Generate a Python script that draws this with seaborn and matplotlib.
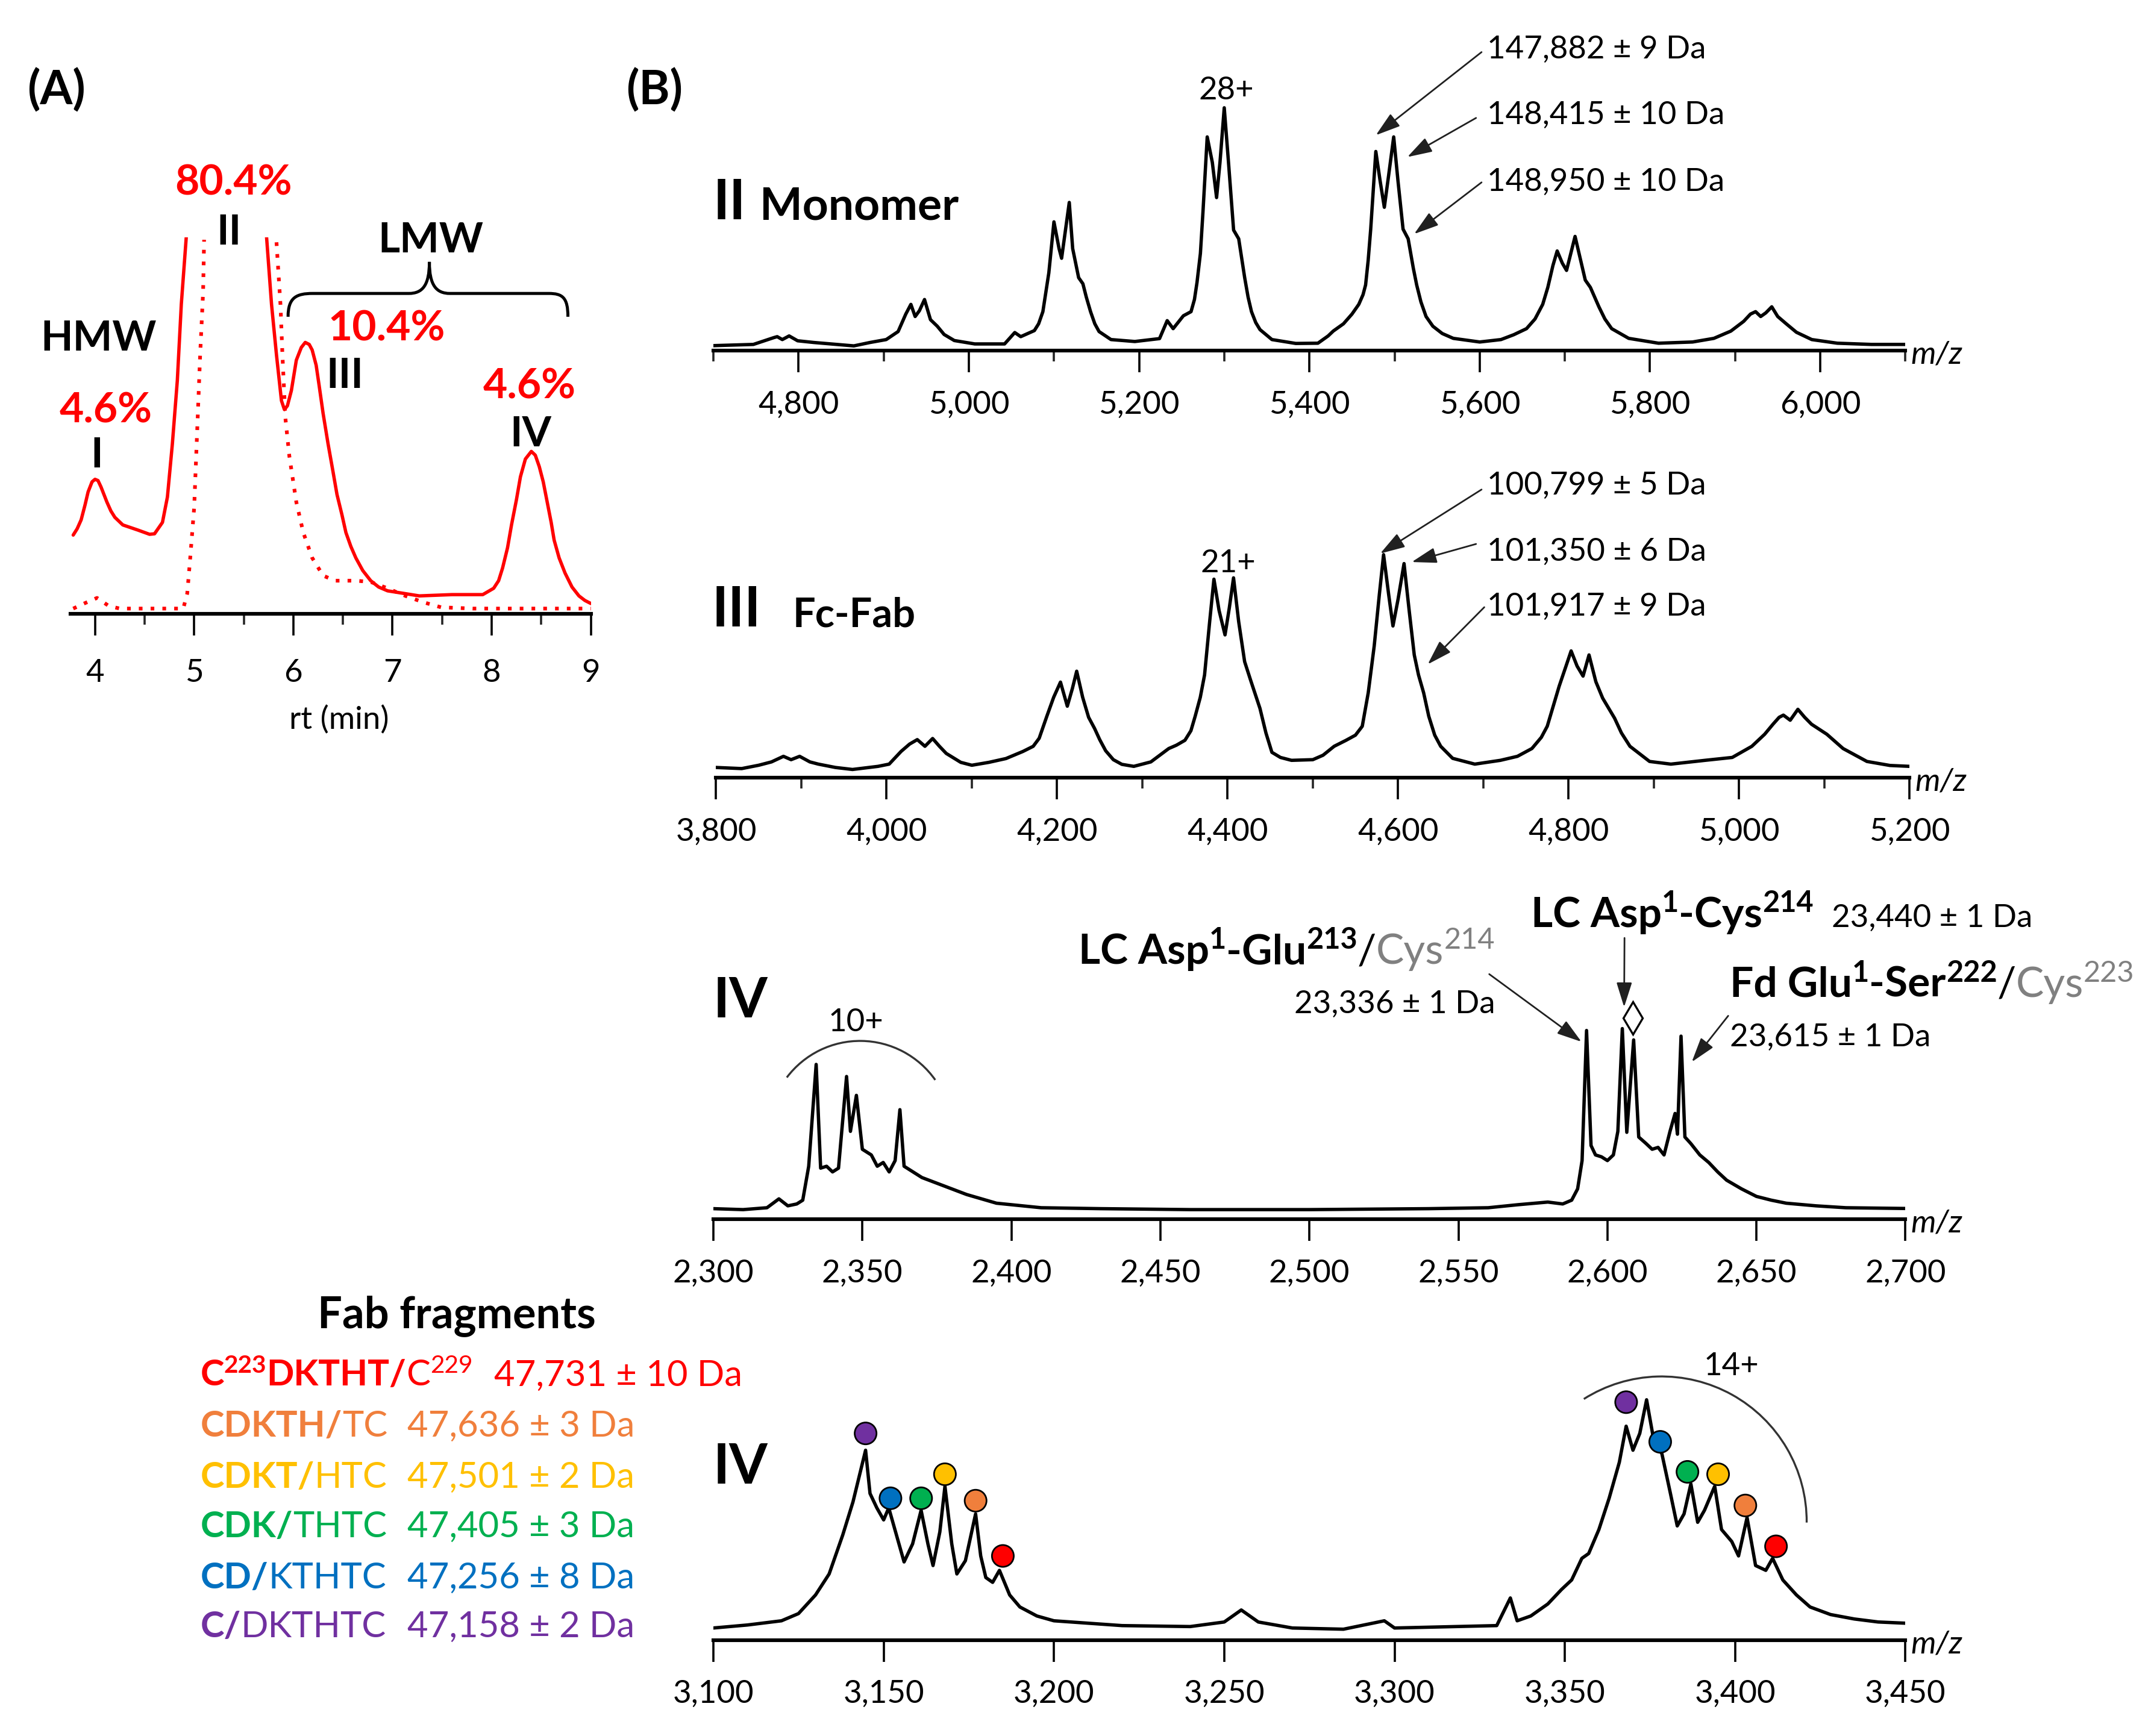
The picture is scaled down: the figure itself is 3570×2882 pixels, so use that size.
import numpy as np
import pandas as pd
import matplotlib
matplotlib.use("Agg")
import matplotlib.pyplot as plt
import seaborn as sns
from matplotlib.transforms import Affine2D, IdentityTransform
from matplotlib.path import Path
from matplotlib.patches import PathPatch, Arc
from matplotlib.ticker import MultipleLocator, FuncFormatter

# (A) SEC trace, absorbance in arbitrary units (peak II runs off the top)
sec_rt_left = [3.78, 3.82, 3.86, 3.90, 3.93, 3.97, 4.00, 4.03, 4.06, 4.09, 4.12, 4.16, 4.20, 4.28, 4.43, 4.55,
               4.60, 4.68, 4.73, 4.78, 4.83, 4.87, 4.92]
sec_abs_left = [310, 335, 370, 430, 480, 520, 530, 525, 500, 470, 440, 405, 380, 350, 330, 313,
                315, 360, 460, 670, 920, 1220, 1485]
sec_rt_right = [5.73, 5.78, 5.83, 5.88, 5.91, 5.94, 5.98, 6.03, 6.08, 6.12, 6.16, 6.19, 6.23, 6.26, 6.30, 6.35,
                6.40, 6.44, 6.49, 6.53, 6.58, 6.63, 6.70, 6.78, 6.86, 6.95, 7.27, 7.60, 7.91, 8.02, 8.07,
                8.11, 8.16, 8.20, 8.25, 8.29, 8.34, 8.40, 8.44, 8.48, 8.52, 8.56, 8.60, 8.63, 8.68, 8.74, 8.81,
                8.88, 8.94, 9.00]
sec_abs_right = [1485, 1220, 1020, 840, 805, 820, 880, 1000, 1050, 1070, 1062, 1040, 980, 900, 790, 670,
                 560, 470, 390, 320, 265, 220, 170, 130, 105, 90, 70, 75, 75, 100, 130,
                 180, 260, 350, 450, 540, 610, 640, 625, 580, 520, 440, 360, 290, 220, 160, 105,
                 70, 52, 40]
# dotted reference trace
ref_rt_left = [3.78, 3.89, 4.02, 4.14, 4.25, 4.60, 4.89, 4.93, 4.96, 5.00, 5.03, 5.06, 5.09, 5.10]
ref_abs_left = [20, 40, 62, 30, 20, 20, 20, 80, 220, 420, 720, 1020, 1270, 1475]
ref_rt_right = [5.83, 5.87, 5.89, 5.92, 5.96, 6.03, 6.10, 6.19, 6.30, 6.42, 6.63, 6.78, 6.95, 7.13, 7.31, 7.49, 7.81, 9.00]
ref_abs_right = [1465, 1220, 1020, 770, 620, 440, 320, 220, 150, 130, 130, 125, 100, 70, 45, 25, 20, 20]

# (B) mass spectra, (m/z, relative intensity %)
monomer = [(4700, 2), (4747, 2.5), (4771, 5.3), (4775, 5.7), (4781, 4.5), (4789, 6), (4799, 4), (4818, 3.3),
           (4865, 1.9), (4884, 3.3), (4903, 4.5), (4917, 7.8), (4926, 15), (4932, 19), (4937, 14), (4942, 16.4),
           (4948, 21), (4955, 12.7), (4963, 10), (4971, 6.6), (4983, 4.1), (5007, 2.7), (5042, 2.7), (5054, 7.4),
           (5061, 5.7), (5077, 8.2), (5082, 11), (5087, 16), (5094, 32), (5100, 53), (5106, 42), (5109, 38),
           (5118, 61), (5122, 42), (5129, 30), (5134, 27.5), (5138, 22), (5143, 16), (5148, 11), (5153, 7.8),
           (5167, 4.5), (5195, 3.7), (5224, 4.9), (5233, 12.3), (5240, 9), (5252, 14.3), (5261, 16), (5265, 21),
           (5268, 28), (5272, 40), (5275, 57), (5280, 88), (5286, 77.5), (5291, 63), (5295, 77.5), (5300, 100),
           (5305, 77.5), (5311, 49.6), (5317, 46), (5324, 30), (5328, 22), (5332, 16), (5337, 11.5), (5342, 8.6),
           (5356, 4.5), (5384, 2.9), (5410, 3), (5422, 6), (5428, 8), (5440, 11), (5450, 15), (5458, 19),
           (5463, 23), (5466, 27), (5469, 37), (5472, 50), (5478, 82), (5483, 70), (5488, 59), (5493, 72),
           (5499, 88), (5504, 70), (5510, 50), (5516, 46), (5522, 34), (5526, 27), (5531, 20), (5537, 14),
           (5545, 10), (5556, 7), (5569, 5), (5600, 3.5), (5625, 4.5), (5640, 6.5), (5655, 9), (5665, 13),
           (5674, 19), (5680, 26), (5686, 35), (5691, 41), (5697, 36), (5702, 33), (5707, 40), (5712, 47),
           (5718, 38), (5724, 29), (5730, 26), (5740, 18), (5747, 13), (5755, 9), (5775, 5), (5810, 3),
           (5850, 3.5), (5875, 5), (5895, 8), (5910, 12), (5918, 15), (5924, 16), (5930, 14), (5936, 15.5),
           (5943, 18), (5950, 14), (5960, 11), (5972, 7.5), (5990, 4.5), (6020, 3), (6060, 2.5), (6100, 2.5)]
fc_fab = [(3800, 4.5), (3830, 4), (3850, 5.5), (3865, 7), (3879, 9.5), (3888, 8), (3898, 9.5), (3910, 7),
          (3920, 6), (3940, 4.5), (3960, 3.6), (3990, 5), (4003, 6), (4017, 11.7), (4027, 15), (4036, 17),
          (4045, 14), (4054, 17.5), (4062, 14), (4070, 10.8), (4087, 6.8), (4100, 5.5), (4120, 6.8), (4140, 8.5),
          (4160, 11.7), (4172, 14), (4179, 17.6), (4188, 27.5), (4196, 36), (4204, 42.8), (4212, 32), (4218, 40),
          (4223, 47.7), (4230, 36), (4237, 27), (4244, 22), (4250, 17), (4257, 12), (4266, 8), (4276, 5.9),
          (4290, 5), (4310, 7), (4331, 13), (4340, 14.5), (4350, 16.7), (4357, 21), (4362, 27.5), (4368, 36),
          (4373, 46), (4379, 70), (4384, 89), (4390, 75), (4397, 64), (4402, 76), (4407, 89.6), (4413, 70),
          (4420, 52), (4427, 43.7), (4438, 31), (4445, 20), (4452, 11.3), (4462, 9), (4475, 7.7), (4500, 8),
          (4512, 10), (4525, 14), (4539, 16.7), (4550, 19), (4558, 23), (4565, 38), (4572, 59), (4578, 82),
          (4583, 100), (4589, 82), (4594, 68), (4600, 80), (4607, 96), (4613, 75), (4619, 55), (4624, 46),
          (4630, 38), (4636, 27.5), (4643, 19), (4650, 14), (4664, 8.6), (4690, 6), (4720, 7.7), (4740, 9.5),
          (4757, 13), (4768, 18), (4775, 23), (4782, 32), (4789, 41), (4797, 50), (4803, 56.8), (4810, 50),
          (4817, 45.5), (4824, 55), (4832, 43), (4840, 35.6), (4854, 26.6), (4862, 20), (4872, 14), (4895, 7.2),
          (4920, 6), (4960, 7.7), (4992, 9), (5015, 14), (5030, 19.4), (5040, 24), (5047, 27), (5052, 28),
          (5060, 25.7), (5069, 30.6), (5077, 27), (5085, 23.9), (5103, 19.4), (5122, 13), (5150, 7.2),
          (5177, 5.4), (5200, 5)]
chains = [(2300, 5.5), (2310, 5), (2318, 6), (2322, 10.7), (2325, 7), (2328, 8), (2330, 10), (2332, 28),
          (2334.5, 82), (2336, 27), (2338, 28), (2340, 25), (2342, 27), (2344.7, 75.6), (2346, 46.5),
          (2348, 65.6), (2350, 37), (2353, 34), (2355, 28), (2357, 30), (2359, 25), (2361, 31), (2362.6, 58),
          (2364, 28), (2367, 25), (2370, 22), (2375, 19), (2380, 16), (2385, 13), (2390, 10.7), (2395, 8.4),
          (2400, 7.6), (2410, 6), (2430, 5.5), (2460, 5), (2500, 5), (2540, 5.5), (2560, 6), (2570, 7.6),
          (2580, 9), (2585, 8), (2588, 10), (2590, 16), (2591.5, 31), (2593, 100), (2594.5, 39), (2596, 34),
          (2598, 33), (2600, 31), (2602, 34), (2603.5, 46.5), (2605, 101), (2606.5, 46), (2608.8, 95),
          (2610.5, 43.5), (2613, 40), (2615, 37), (2617, 38), (2619, 34), (2621, 46.5), (2622.7, 56),
          (2623.5, 45), (2624.7, 97), (2626, 43.5), (2628, 40), (2631, 34), (2634, 30), (2637, 25), (2640, 20.6),
          (2645, 16), (2650, 12), (2655, 10), (2660, 8.4), (2670, 7), (2680, 6), (2700, 5.6)]
fab = [(3100, 5), (3110, 6.25), (3120, 8), (3125, 11), (3130, 18.75), (3134, 27.5), (3138, 43.75), (3141, 57.5),
       (3144.7, 79), (3146, 61), (3148, 55), (3150, 50), (3151.5, 55), (3153.5, 45), (3156, 32.5), (3158.5, 40),
       (3161, 54), (3163, 40), (3164.5, 31), (3166.5, 45), (3168, 64), (3170, 40), (3171.5, 27.5), (3174, 33),
       (3177, 52.5), (3178.5, 35), (3180, 26), (3182, 24), (3184, 29), (3187, 18.75), (3190, 13.75), (3195, 10),
       (3200, 8), (3210, 7), (3220, 6), (3240, 5.6), (3250, 7.5), (3255, 12.5), (3260, 7.5), (3270, 5),
       (3285, 4.5), (3297, 8), (3300, 5), (3315, 5.5), (3330, 6), (3334, 17.5), (3336, 8), (3340, 10),
       (3345, 15), (3349, 21), (3352, 25), (3355, 34), (3357, 36), (3360, 46), (3363, 59), (3366, 74),
       (3368, 89), (3370, 79), (3372, 86), (3374, 100), (3376, 84), (3378.5, 77.5), (3381, 61), (3383, 47.5),
       (3385, 52.5), (3387, 65), (3389, 49), (3391, 54), (3394, 64), (3396, 46), (3399, 41), (3401, 35),
       (3403.5, 51), (3406, 31), (3409, 29), (3411, 34), (3414, 25), (3418, 18.75), (3422, 13.75),
       (3428, 10.6), (3435, 8.75), (3442, 7.5), (3450, 7)]

# Fab fragment assignments (legend order top to bottom)
frag_colors = ["#FF0000", "#F07F3C", "#FFC000", "#00B050", "#0070C0", "#7030A0"]
frag_bold = ["C|223|DKTHT/", "CDKTH/", "CDKT/", "CDK/", "CD/", "C/"]
frag_rest = ["C|229", "TC", "HTC", "THTC", "KTHTC", "DKTHTC"]
frag_mass = ["47,731 ± 10 Da", "47,636 ± 3 Da", "47,501 ± 2 Da", "47,405 ± 3 Da", "47,256 ± 8 Da", "47,158 ± 2 Da"]
# marked peaks in the Fab spectrum, one per fragment, two charge states
frag_mz_a = [3185, 3177, 3168, 3161, 3152, 3144.7]
frag_int_a = [35, 58, 69, 59, 59, 86]
frag_mz_b = [3412, 3403, 3395, 3386, 3378, 3368]
frag_int_b = [39, 56, 69, 70, 82.5, 99]

masses_monomer = ["147,882 ± 9 Da", "148,415 ± 10 Da", "148,950 ± 10 Da"]
masses_fcfab = ["100,799 ± 5 Da", "101,350 ± 6 Da", "101,917 ± 9 Da"]

RED = "#FF0000"
W, H = 1568, 1266  # layout grid of the reference

sns.set_style("white")
plt.rcParams["font.family"] = ["Lato", "DejaVu Sans"]
plt.rcParams["axes.edgecolor"] = "black"

fig = plt.figure(figsize=(17.85, 14.41), dpi=200)
DISP = Affine2D().scale(1 / W, -1 / H).translate(0, 1) + fig.transFigure
renderer = fig.canvas.get_renderer()


def label(x, y, s, size, weight="normal", color="black", ha="left", va="baseline", style="normal"):
    return fig.text(x, y, s, transform=DISP, fontsize=size, fontweight=weight, color=color,
                    ha=ha, va=va, fontstyle=style)


def runs(x, y, parts, size, sup_scale=0.62):
    # parts: (text, weight, color, superscript)
    px, py = DISP.transform((x, y))
    for s, weight, col, sup in parts:
        fs = size * sup_scale if sup else size
        dy = size * 0.36 * fig.dpi / 72 if sup else 0
        t = fig.text(px, py + dy, s, transform=IdentityTransform(), fontsize=fs,
                     fontweight=weight, color=col, va="baseline", ha="left")
        px += t.get_window_extent(renderer).width


def arrow(ax, tip, start):
    ax.annotate("", xy=tip, xycoords="data", xytext=start, textcoords=DISP,
                arrowprops=dict(arrowstyle="-|>,head_length=0.7,head_width=0.22", color="#202020",
                                lw=1.0, shrinkA=0, shrinkB=0, mutation_scale=18),
                annotation_clip=False)


def base_axes(x0, x1, base, top):
    ax = fig.add_axes([x0 / W, 1 - base / H, (x1 - x0) / W, (base - top) / H])
    for s in ["left", "right", "top"]:
        ax.spines[s].set_visible(False)
    ax.spines["bottom"].set_linewidth(2.2)
    ax.spines["bottom"].set_color("black")
    ax.set_yticks([])
    ax.patch.set_alpha(0)
    return ax


# ---------------- panel A ----------------
axA = base_axes(51.2, 430.7, 447.5, 173)
axA.set_xlim(3.75, 9.0)
axA.set_ylim(0, 1485)
sec = pd.concat([pd.DataFrame({"rt": sec_rt_left, "abs": sec_abs_left, "seg": 0}),
                 pd.DataFrame({"rt": sec_rt_right, "abs": sec_abs_right, "seg": 1})])
ref = pd.concat([pd.DataFrame({"rt": ref_rt_left, "abs": ref_abs_left, "seg": 0}),
                 pd.DataFrame({"rt": ref_rt_right, "abs": ref_abs_right, "seg": 1})])
sns.lineplot(data=sec, x="rt", y="abs", units="seg", estimator=None, color=RED, lw=2.0, ax=axA)
sns.lineplot(data=ref, x="rt", y="abs", units="seg", estimator=None, color=RED, lw=2.2,
             linestyle=(0, (1, 2.2)), ax=axA)
axA.xaxis.set_major_locator(MultipleLocator(1))
axA.xaxis.set_minor_locator(MultipleLocator(0.5))
axA.tick_params(axis="x", which="major", direction="out", length=13, width=1.3, pad=14,
                labelsize=19, bottom=True, colors="black")
axA.tick_params(axis="x", which="minor", direction="out", length=6.5, width=1.3, bottom=True)
axA.set_xlabel("")
axA.set_ylabel("")
label(247, 525, "rt (min)", 19, ha="center", va="center")

label(41, 66, "(A)", 28, "bold", ha="center", va="center")
label(477, 66, "(B)", 28, "bold", ha="center", va="center")
for s, x, y, c in [("80.4%", 170, 142, RED), ("II", 167, 178.5, "black"), ("HMW", 72, 255.6, "black"),
                   ("4.6%", 77, 308, RED), ("I", 70.5, 341, "black"), ("LMW", 314, 184, "black"),
                   ("10.4%", 282, 248.6, RED), ("III", 251.5, 283, "black"), ("4.6%", 386, 290.6, RED),
                   ("IV", 387, 325.6, "black")]:
    label(x, y, s, 25, "bold", color=c, ha="center")

M, L, C = Path.MOVETO, Path.LINETO, Path.CURVE4
brace = Path([(210, 231), (210, 217), (216, 214), (228, 214), (298, 214), (308, 214), (313, 208), (313, 191),
              (313, 208), (318, 214), (328, 214), (400, 214), (410, 214), (414, 217), (414, 231)],
             [M, C, C, C, L, C, C, C, C, C, C, L, C, C, C])
fig.add_artist(PathPatch(brace, transform=DISP, fill=False, lw=1.8, edgecolor="black"))


# ---------------- panel B ----------------
def spec_axes(x0, x1, base, top, lo, hi, px100, data, label_step, minor_step):
    ax = base_axes(x0, x1, base, top)
    ax.set_xlim(lo, hi)
    ax.set_ylim(0, (base - top) / px100 * 100)
    df = pd.DataFrame(data, columns=["mz", "intensity"])
    sns.lineplot(data=df, x="mz", y="intensity", estimator=None, color="black", lw=2.0, ax=ax)
    ax.xaxis.set_major_locator(MultipleLocator(label_step))
    ax.xaxis.set_major_formatter(FuncFormatter(lambda v, p: f"{v:,.0f}"))
    ax.tick_params(axis="x", which="major", direction="out", length=13, width=1.3, pad=11,
                   labelsize=19, bottom=True, colors="black")
    if minor_step:
        ax.xaxis.set_minor_locator(MultipleLocator(minor_step))
        ax.tick_params(axis="x", which="minor", direction="out", length=6.5, width=1.3, bottom=True)
    ax.set_xlabel("")
    ax.set_ylabel("")
    label(x1 + 4, base + 3, "m/z", 19, style="italic", va="center")
    return ax


ax1 = spec_axes(520, 1389, 255.6, 60, 4700, 6100, 177, monomer, 200, 100)
label(520, 160, "II", 33, "bold")
label(554, 160, "Monomer", 27, "bold")
label(894, 72.5, "28+", 19, ha="center")
for s, ty, tip, start in zip(masses_monomer, [42.5, 90.5, 139],
                             [(5478, 88.7), (5515, 79.7), (5523, 48)],
                             [(1080, 38), (1076, 86), (1080, 133)]):
    label(1084, ty, s, 19)
    arrow(ax1, tip, start)

ax2 = spec_axes(522, 1392, 567, 380, 3800, 5200, 162.5, fc_fab, 200, 100)
label(519, 457, "III", 33, "bold")
label(578, 457, "Fc-Fab", 24, "bold")
label(895.5, 417.5, "21+", 19, ha="center")
for s, ty, tip, start in zip(masses_fcfab, [360.5, 409, 449],
                             [(4579, 100.5), (4616, 96.7), (4634.8, 50.8)],
                             [(1080, 357), (1076, 396.7), (1082, 442.8)]):
    label(1084, ty, s, 19)
    arrow(ax2, tip, start)

ax3 = spec_axes(520, 1389, 889, 700, 2300, 2700, 137.5, chains, 50, None)
label(520, 742, "IV", 33, "bold")
label(624, 752, "10+", 19, ha="center")
fig.add_artist(Arc((627 / W, 1 - 826 / H), 2 * 66.9 / W, 2 * 66.9 / H, theta1=41, theta2=137,
                   transform=fig.transFigure, lw=1.2, color="#333333"))
GRAY = "#808080"
runs(786, 703, [("LC Asp", "bold", "black", False), ("1", "bold", "black", True),
                ("-Glu", "bold", "black", False), ("213", "bold", "black", True),
                ("/", "normal", "black", False), ("Cys", "normal", GRAY, False),
                ("214", "normal", GRAY, True)], 25, 0.7)
label(1090, 739, "23,336 ± 1 Da", 19, ha="right")
arrow(ax3, (2591.3, 94), (1085.6, 710.4))
runs(1116, 676, [("LC Asp", "bold", "black", False), ("1", "bold", "black", True),
                 ("-Cys", "bold", "black", False), ("214", "bold", "black", True)], 25, 0.7)
label(1335, 676, "23,440 ± 1 Da", 19)
arrow(ax3, (2605.6, 112.4), (1184.2, 684))
ax3.plot([2608.5], [106.7], marker="d", ms=14, mfc="white", mec="black", mew=1.2, clip_on=False)
runs(1261, 727, [("Fd Glu", "bold", "black", False), ("1", "bold", "black", True),
                 ("-Ser", "bold", "black", False), ("222", "bold", "black", True),
                 ("/", "normal", "black", False), ("Cys", "normal", GRAY, False),
                 ("223", "normal", GRAY, True)], 25, 0.7)
label(1261, 763, "23,615 ± 1 Da", 19)
arrow(ax3, (2628.3, 83.3), (1259.8, 740.8))

ax4 = spec_axes(520, 1389, 1196, 990, 3100, 3450, 175.2, fab, 50, None)
label(520, 1082, "IV", 33, "bold")
label(1262, 1003, "14+", 19, ha="center")
fig.add_artist(Arc((1211.2 / W, 1 - 1109.6 / H), 2 * 105.8 / W, 2 * 105.8 / H, theta1=-0.5, theta2=117.1,
                   transform=fig.transFigure, lw=1.2, color="#333333"))
dots = pd.DataFrame({"mz": frag_mz_a + frag_mz_b, "intensity": frag_int_a + frag_int_b,
                     "frag": list(range(6)) * 2})
sns.scatterplot(data=dots, x="mz", y="intensity", hue="frag", palette=dict(enumerate(frag_colors)),
                s=170, edgecolor="black", linewidth=1.0, legend=False, ax=ax4, zorder=5, clip_on=False)
ax4.set_xlabel("")
ax4.set_ylabel("")

# Fab fragment key
label(333, 968, "Fab fragments", 26, "bold", ha="center")
for i, (b, r, m, col) in enumerate(zip(frag_bold, frag_rest, frag_mass, frag_colors)):
    y = [1010.5, 1047.5, 1085, 1121, 1158.5, 1194][i]
    parts = []
    for k, piece in enumerate(b.split("|")):
        parts.append((piece, "bold", col, k % 2 == 1))
    for k, piece in enumerate(r.split("|")):
        parts.append((piece, "normal", col, k % 2 == 1))
    runs(146, y, parts, 21.5, 0.68)
    label(360 if i == 0 else 297, y, m, 21.5, color=col)

fig.savefig("out.png", dpi=200)
